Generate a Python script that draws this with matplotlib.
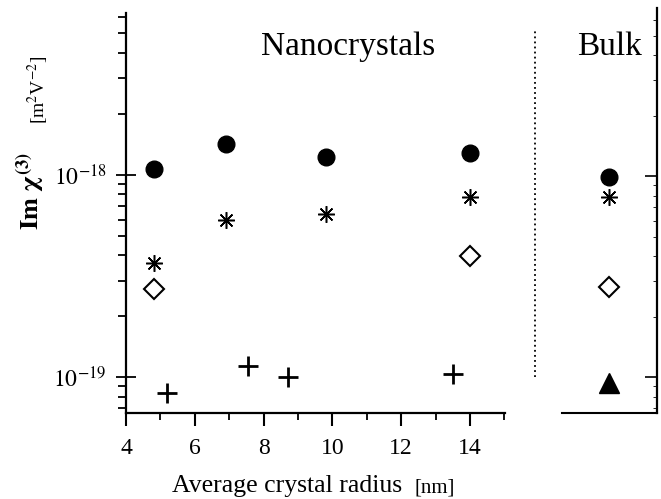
import matplotlib
matplotlib.use("Agg")
import matplotlib.pyplot as plt
from matplotlib.ticker import LogLocator, NullFormatter, FixedLocator

plt.rcParams['font.family'] = ['Liberation Serif', 'DejaVu Serif']
plt.rcParams['mathtext.fontset'] = 'stix'

# Nanocrystal data
circ_x = [4.8, 6.9, 9.8, 14.0]
circ_y = [1.07e-18, 1.42e-18, 1.23e-18, 1.28e-18]
ast_x = [4.8, 6.9, 9.8, 14.0]
ast_y = [3.68e-19, 5.95e-19, 6.4e-19, 7.8e-19]
dia_x = [4.8, 14.0]
dia_y = [2.72e-19, 3.95e-19]
plus_x = [5.2, 7.55, 8.7, 13.5]
plus_y = [0.83e-19, 1.13e-19, 1.0e-19, 1.04e-19]

# Bulk data
bulk_circ = 0.99e-18
bulk_ast = 0.79e-18
bulk_dia = 2.8e-19
bulk_tri = 0.94e-19

xticks = [4, 6, 8, 10, 12, 14]

W, H = 661, 499
fig = plt.figure(figsize=(W / 100, H / 100), dpi=100)

ylo, yhi = 10 ** -19.178, 10 ** -17.2

ax = fig.add_axes([126 / W, 1 - 413 / H, 379 / W, 400 / H])
ax.set_yscale('log')
ax.set_xlim(4, 4 + 379 / 34.4)
ax.set_ylim(ylo, yhi)
for s in ['top', 'right']:
    ax.spines[s].set_visible(False)
for s in ['left', 'bottom']:
    ax.spines[s].set_linewidth(1.6)

mk = dict(linestyle='none', color='black')
ax.plot(circ_x, circ_y, marker='o', markersize=12, **mk)
ax.plot(ast_x, ast_y, marker=(8, 2, 0), markersize=12, markeredgewidth=1.1, **mk)
ax.plot(dia_x, dia_y, marker='D', markersize=10, markerfacecolor='white',
        markeredgewidth=1.5, **mk)
ax.plot(plus_x, plus_y, marker='+', markersize=14, markeredgewidth=2.0, **mk)

ax.set_xticks(xticks)
ax.set_xticks([5, 7, 9, 11, 13, 15], minor=True)
ax.tick_params(axis='x', which='major', direction='out', length=9, width=1.5,
               labelsize=17, pad=9)
ax.tick_params(axis='x', which='minor', direction='out', length=5, width=1.3)
ax.yaxis.set_major_locator(FixedLocator([1e-19, 1e-18]))
ax.yaxis.set_minor_locator(LogLocator(base=10, subs=range(2, 10)))
ax.yaxis.set_minor_formatter(NullFormatter())
ax.set_yticklabels([r'$10^{-19}$', r'$10^{-18}$'])
ax.tick_params(axis='y', which='major', direction='inout', length=14, width=1.3,
               labelsize=17, pad=7)
ax.tick_params(axis='y', which='minor', direction='out', length=6, width=1.3)

fig.text(348 / W, 1 - 55 / H, 'Nanocrystals', ha='center', va='baseline',
         fontsize=24)

fig.text(287 / W, 1 - 492 / H, 'Average crystal radius', ha='center',
         va='baseline', fontsize=18.5)
fig.text(435 / W, 1 - 492 / H, '[nm]', ha='center', va='baseline', fontsize=15)
fig.text(31 / W, 1 - 191 / H, r'$\mathbf{Im}\ \mathbf{\chi}^{\mathbf{(3)}}$',
         rotation=90, ha='center', va='center', fontsize=19)
fig.text(38 / W, 1 - 90 / H, r'[m$^2$V$^{-2}$]', rotation=90, ha='center',
         va='center', fontsize=14)

# Bulk panel
bx = fig.add_axes([535 / W, 1 - 413 / H, 122 / W, 405 / H])
bx.set_yscale('log')
bx.set_xlim(0, 1)
bx.set_ylim(ylo, 10 ** (-18 + (177 - 8) / 202))
for s in ['top', 'left', 'bottom']:
    bx.spines[s].set_visible(False)
bx.spines['right'].set_linewidth(1.6)
bx.set_xticks([])
bx.yaxis.set_ticks_position('right')
bx.yaxis.set_major_locator(FixedLocator([1e-19, 1e-18]))
bx.yaxis.set_minor_locator(LogLocator(base=10, subs=range(2, 10)))
bx.yaxis.set_minor_formatter(NullFormatter())
bx.yaxis.set_major_formatter(NullFormatter())
bx.tick_params(axis='y', which='major', direction='in', length=9, width=1.2)
bx.tick_params(axis='y', which='minor', direction='in', length=3, width=0.6)

bx.plot([0.0, 0.0], [1e-19, 10 ** (-18 + (175 - 28) / 202)], linestyle=(0, (1, 1.8)),
        color='black', linewidth=1.3, clip_on=False)
bx.plot([0.22, 1.0], [ylo, ylo], color='black', linewidth=1.5, clip_on=False)

bpos = 0.607
bx.plot([bpos], [bulk_circ], marker='o', markersize=12, **mk)
bx.plot([bpos], [bulk_ast], marker=(8, 2, 0), markersize=12, markeredgewidth=1.1, **mk)
bx.plot([bpos], [bulk_dia], marker='D', markersize=10, markerfacecolor='white',
        markeredgewidth=1.5, **mk)
bx.plot([bpos], [bulk_tri], marker='^', markersize=14, **mk)
fig.text(609 / W, 1 - 55 / H, 'Bulk', ha='center', va='baseline', fontsize=24)

fig.savefig('out.png', dpi=100)
